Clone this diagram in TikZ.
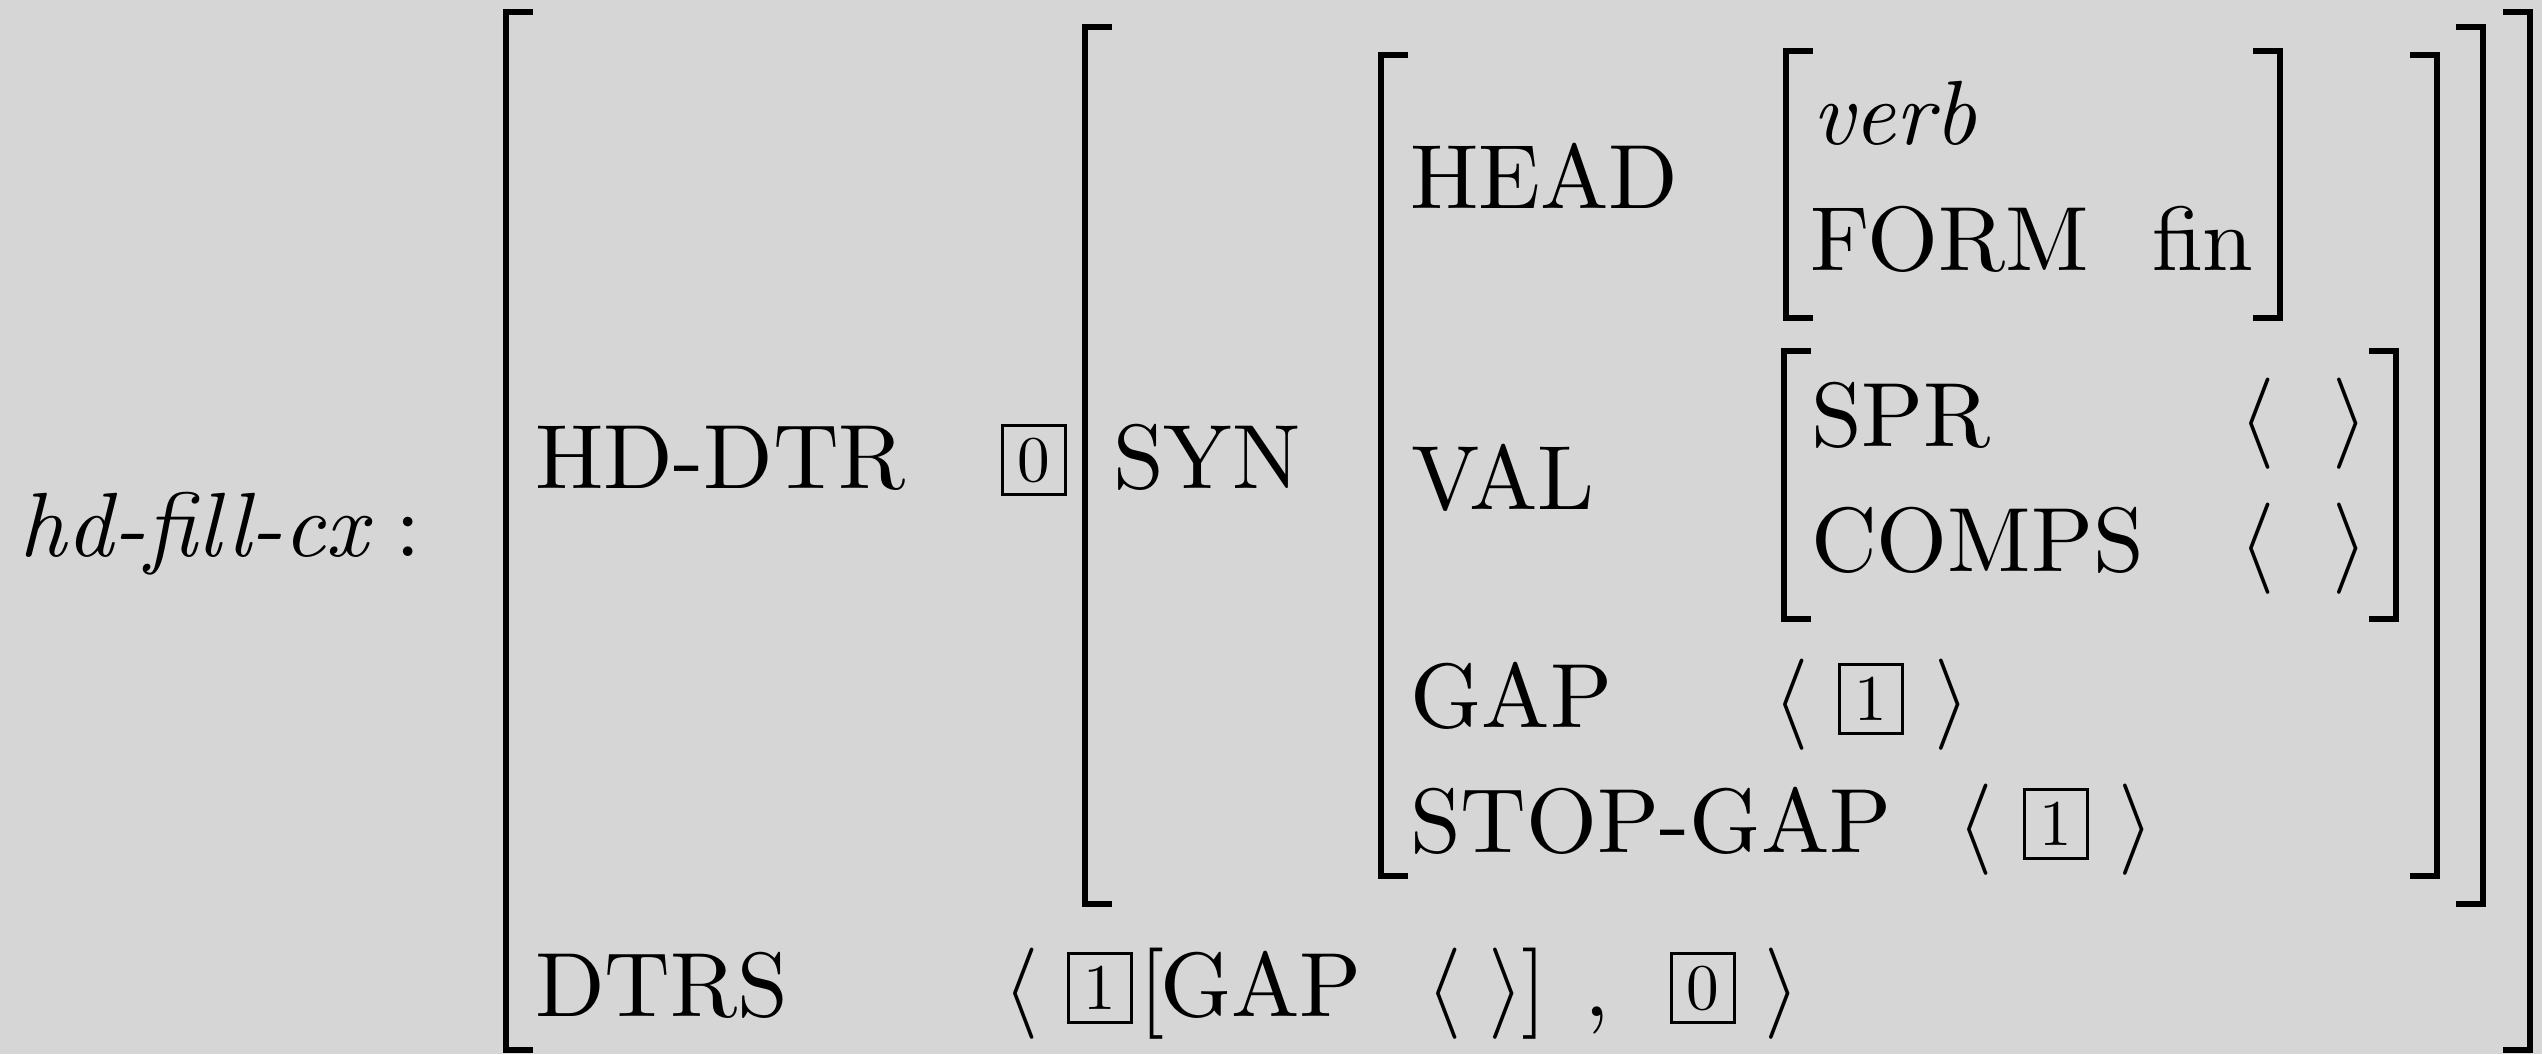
\documentclass[tikz,border=0pt]{standalone}
\usepackage{fix-cm}
\usepackage{fontspec}
% the 10pt design of Latin Modern, scaled up
\setmainfont{lmroman10-regular.otf}[ItalicFont=lmroman10-italic.otf]
\definecolor{paper}{RGB}{214,214,214}
\newcommand{\avmsize}{\fontsize{22.8}{27}\selectfont}
\newcommand{\tagsize}{\fontsize{16.3}{18}\selectfont}
\tikzset{
  txt/.style={inner sep=0pt, outer sep=0pt, anchor=base west, font=\avmsize},
  sym/.style={inner sep=0pt, outer sep=0pt, anchor=base, font=\avmsize},
  tagbox/.style={draw, line width=0.75pt, inner sep=0pt, minimum width=15.9pt,
                 minimum height=17.1pt, font=\tagsize, anchor=center},
  brk/.style={line width=1.5pt, line join=miter, line cap=butt},
}
% square brackets of the attribute-value matrices: x of the stem, top, bottom
\newcommand{\avmL}[3]{\draw[brk] (#1+27,#2) -- (#1,#2) -- (#1,#3) -- (#1+27,#3);}
\newcommand{\avmR}[3]{\draw[brk] (#1-27,#2) -- (#1,#2) -- (#1,#3) -- (#1-27,#3);}
\begin{document}
\begin{tikzpicture}[x=0.25pt, y=-0.25pt]
\fill[paper] (0,0) rectangle (2542,1054);
\useasboundingbox (0,0) rectangle (2542,1054);

% type label
\node[txt, font=\avmsize\itshape] (type) at (20,556) {hd-fill-cx};
\node[sym] (colon) at (408,556) {:};

% brackets
\avmL{506}{12}{1050}  \avmR{2530}{12}{1050}
\avmL{1085}{27}{904}  \avmR{2483}{27}{904}
\avmL{1381}{55}{876}  \avmR{2437}{55}{876}
\avmL{1786}{51}{318}  \avmR{2280}{51}{318}
\avmL{1784}{351}{619} \avmR{2396}{351}{619}

% HD-DTR row
\node[txt] (hddtr) at (535,488) {HD-DTR};
\node[tagbox] (tagzeroA) at (1034,460) {0};
\node[txt] (syn) at (1113,488) {SYN};

% HEAD
\node[txt] (head) at (1410,208) {HEAD};
\node[txt, font=\avmsize\itshape] (verb) at (1812,144) {verb};
\node[txt] (form) at (1810,270) {FORM};
\node[txt] (fin) at (2152,270) {fin};

% VAL
\node[txt] (val) at (1411,509) {VAL};
\node[txt] (spr) at (1811,446) {SPR};
\node[sym] (sprl) at (2257,446) {$\langle$};
\node[sym] (sprr) at (2350,446) {$\rangle$};
\node[txt] (comps) at (1811,571) {COMPS};
\node[sym] (compsl) at (2257,571) {$\langle$};
\node[sym] (compsr) at (2350,571) {$\rangle$};

% GAP and STOP-GAP
\node[txt] (gap) at (1410,727) {GAP};
\node[sym] (gapl) at (1791,727) {$\langle$};
\node[tagbox] (tagoneA) at (1871,699) {1};
\node[sym] (gapr) at (1952,727) {$\rangle$};
\node[txt] (stopgap) at (1410,852) {STOP-GAP};
\node[sym] (stopl) at (1975,852) {$\langle$};
\node[tagbox] (tagoneB) at (2056,824) {1};
\node[sym] (stopr) at (2136,852) {$\rangle$};

% DTRS row
\node[txt] (dtrs) at (535,1016) {DTRS};
\node[sym] (dtrsl) at (1021,1016) {$\langle$};
\node[tagbox] (tagoneC) at (1100,988) {1};
\node[sym] (sqopen) at (1152,1016) {[};
\node[txt] (dgap) at (1160,1016) {GAP};
\node[sym] (dgapl) at (1444,1016) {$\langle$};
\node[sym] (dgapr) at (1506,1016) {$\rangle$};
\node[sym] (sqclose) at (1534,1016) {]};
\node[sym] (comma) at (1597,1016) {,};
\node[tagbox] (tagzeroB) at (1703,988) {0};
\node[sym] (dtrsr) at (1782,1016) {$\rangle$};
\end{tikzpicture}
\end{document}
